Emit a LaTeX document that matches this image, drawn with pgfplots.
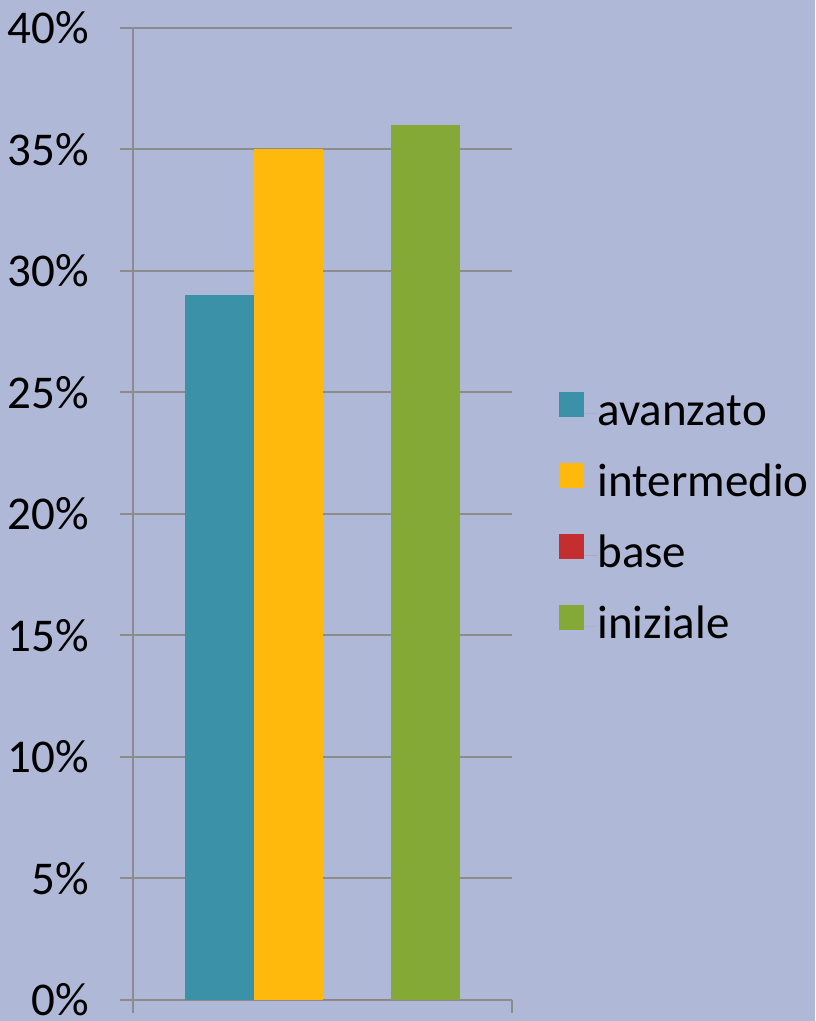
\documentclass[border=0pt]{standalone}
\usepackage{pgfplots}
\pgfplotsset{compat=1.18}
\usepackage{fontspec}
\setmainfont{Carlito}
\definecolor{bg}{HTML}{AFB8D6}
\definecolor{cA}{HTML}{3A91A8}
\definecolor{cB}{HTML}{FFB80C}
\definecolor{cC}{HTML}{C42E2F}
\definecolor{cD}{HTML}{85A936}
\definecolor{gridc}{HTML}{8C8C8C}
\begin{document}
\begin{tikzpicture}
\fill[bg] (0pt,0pt) rectangle (407.5pt,510.5pt);
\path[use as bounding box] (0pt,0pt) rectangle (407.5pt,510.5pt);
\begin{axis}[
  at={(66.5pt,10.5pt)}, anchor=south west,
  scale only axis, width=189.5pt, height=486pt,
  xmin=-1, xmax=1, ymin=0, ymax=40,
  ybar=0pt, bar width=34.25pt,
  axis x line*=bottom, axis y line*=left,
  axis line style={gridc, line width=1pt},
  xtick={-1,1}, xticklabels={}, 
  ytick={0,5,10,15,20,25,30,35,40},
  yticklabels={0\%,5\%,10\%,15\%,20\%,25\%,30\%,35\%,40\%},
  tick align=outside, major tick length=6.5pt,
  tick style={gridc, line width=1pt},
  ymajorgrids, grid style={gridc, line width=1pt},
  yticklabel style={font=\fontsize{23.5}{28}\selectfont, xshift=-12pt},
  legend style={at={(1,0.494)}, anchor=west, xshift=20.5pt, draw=none, fill=none,
    font=\fontsize{23.5}{28}\selectfont, row sep=13.5pt,
    nodes={inner sep=0pt, text height=17pt, text depth=5pt}},
  legend cell align=left,
]
\addplot[fill=cA, draw=none, legend image code/.code={\fill[cA] (0pt,-2pt) rectangle (12.5pt,10.5pt);\path (0,0) -- (19pt,0);}] coordinates {(0,29)};
\addplot[fill=cB, draw=none, legend image code/.code={\fill[cB] (0pt,-2pt) rectangle (12.5pt,10.5pt);\path (0,0) -- (19pt,0);}] coordinates {(0,35)};
\addplot[fill=cC, draw=none, legend image code/.code={\fill[cC] (0pt,-2pt) rectangle (12.5pt,10.5pt);\path (0,0) -- (19pt,0);}] coordinates {(0,0)};
\addplot[fill=cD, draw=none, legend image code/.code={\fill[cD] (0pt,-2pt) rectangle (12.5pt,10.5pt);\path (0,0) -- (19pt,0);}] coordinates {(0,36)};
\legend{avanzato, intermedio, base, iniziale}
\end{axis}
\end{tikzpicture}
\end{document}
